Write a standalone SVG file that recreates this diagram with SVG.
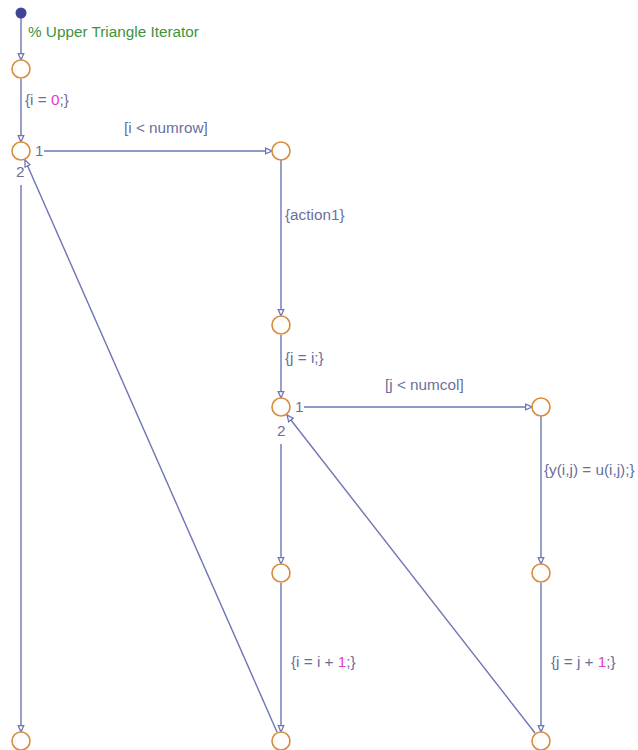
<svg xmlns="http://www.w3.org/2000/svg" width="638" height="750" viewBox="0 0 638 750">
<defs>
<style>
.j{fill:#fff;stroke:#d98b3c;stroke-width:1.6}
.c{stroke:#6e74b6;stroke-width:1.4;fill:none}
.t{font-family:"Liberation Sans",Arial,sans-serif;font-size:15.3px;fill:#6a6f9e}
.n{fill:#e23cc8}
.cm{font-family:"Liberation Sans",Arial,sans-serif;font-size:15.3px;fill:#3d943d}
</style>
<marker id="a" viewBox="0 0 10 10" refX="9" refY="5" markerWidth="8" markerHeight="8" markerUnits="userSpaceOnUse" orient="auto">
<path d="M1,1.5 L9,5 L1,8.5 Z" fill="#fff" stroke="#6e74b6" stroke-width="1.6"/>
</marker>
</defs>
<rect width="638" height="750" fill="#fff"/>
<g id="connectors">
<line class="c" x1="21" y1="18" x2="21" y2="60" marker-end="url(#a)"/>
<line class="c" x1="21" y1="79" x2="21" y2="142" marker-end="url(#a)"/>
<line class="c" x1="44" y1="151" x2="272" y2="151" marker-end="url(#a)"/>
<line class="c" x1="281" y1="160" x2="281" y2="316" marker-end="url(#a)"/>
<line class="c" x1="281" y1="335" x2="281" y2="398" marker-end="url(#a)"/>
<line class="c" x1="304" y1="407" x2="532" y2="407" marker-end="url(#a)"/>
<line class="c" x1="541" y1="416" x2="541" y2="564" marker-end="url(#a)"/>
<line class="c" x1="541" y1="583" x2="541" y2="732" marker-end="url(#a)"/>
<line class="c" x1="281" y1="444" x2="281" y2="564" marker-end="url(#a)"/>
<line class="c" x1="281" y1="583" x2="281" y2="732" marker-end="url(#a)"/>
<line class="c" x1="21" y1="185" x2="21" y2="732" marker-end="url(#a)"/>
<line class="c" x1="277" y1="732" x2="25" y2="160" marker-end="url(#a)"/>
<line class="c" x1="535" y1="733" x2="287" y2="415" marker-end="url(#a)"/>
</g>
<g id="default"><circle cx="21" cy="13" r="5.5" fill="#3f4497"/></g>
<g id="comment"><text class="cm" x="28" y="37">% Upper Triangle Iterator</text></g>
<g id="j0"><circle class="j" cx="21" cy="69" r="9"/></g>
<g id="j1"><circle class="j" cx="21" cy="151" r="9"/><text class="t" x="35" y="156">1</text><text class="t" x="16" y="177">2</text></g>
<g id="j2"><circle class="j" cx="281" cy="151" r="9"/></g>
<g id="j3"><circle class="j" cx="281" cy="325" r="9"/></g>
<g id="j4"><circle class="j" cx="281" cy="407" r="9"/><text class="t" x="295" y="412">1</text><text class="t" x="277" y="436">2</text></g>
<g id="j5"><circle class="j" cx="541" cy="407" r="9"/></g>
<g id="j6"><circle class="j" cx="281" cy="573" r="9"/></g>
<g id="j7"><circle class="j" cx="541" cy="573" r="9"/></g>
<g id="j8"><circle class="j" cx="21" cy="741" r="9"/></g>
<g id="j9"><circle class="j" cx="281" cy="741" r="9"/></g>
<g id="j10"><circle class="j" cx="541" cy="741" r="9"/></g>
<g id="labels">
<text class="t" x="25" y="105">{i = <tspan class="n">0</tspan>;}</text>
<text class="t" x="124" y="133">[i &lt; numrow]</text>
<text class="t" x="285" y="220">{action1}</text>
<text class="t" x="285" y="363">{j = i;}</text>
<text class="t" x="385" y="390">[j &lt; numcol]</text>
<text class="t" x="544" y="475">{y(i,j) = u(i,j);}</text>
<text class="t" x="291" y="667">{i = i + <tspan class="n">1</tspan>;}</text>
<text class="t" x="551" y="667">{j = j + <tspan class="n">1</tspan>;}</text>
</g>
</svg>
